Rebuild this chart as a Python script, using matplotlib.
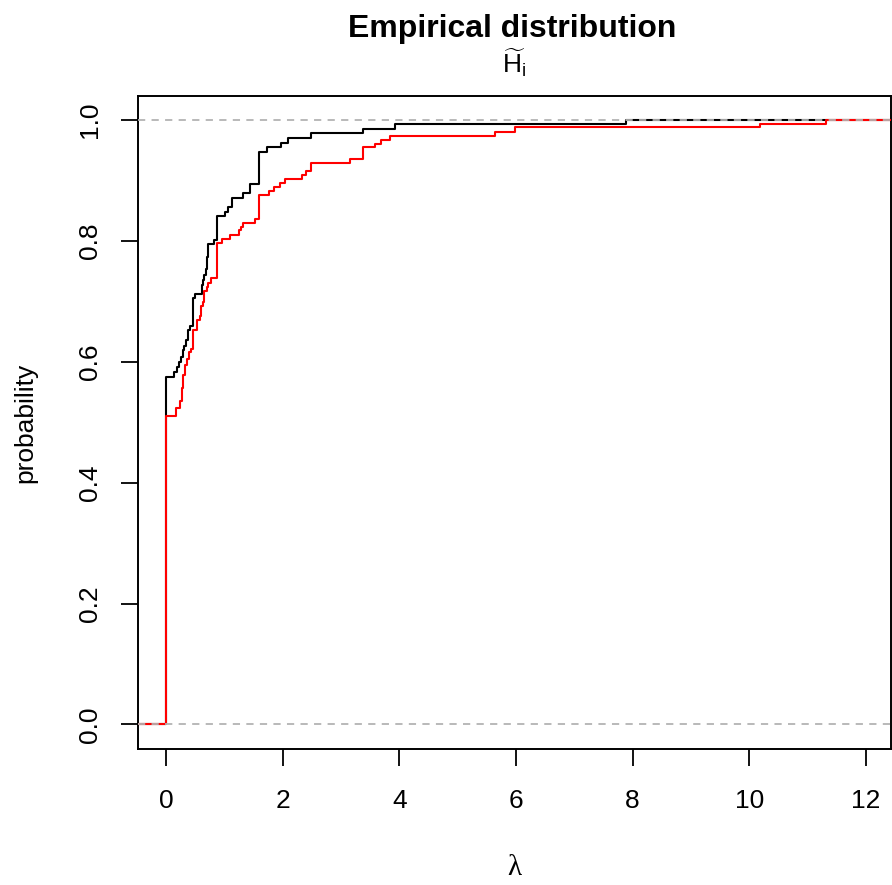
import matplotlib
matplotlib.use("Agg")
import matplotlib.pyplot as plt

# ---- data (jump points of the two empirical CDFs) ----
black_x = [0.00, 0.14, 0.19, 0.23, 0.26, 0.29, 0.31, 0.34, 0.38, 0.42, 0.47, 0.50,
           0.62, 0.63, 0.66, 0.68, 0.70, 0.71, 0.72, 0.82, 0.88, 1.01, 1.06, 1.13,
           1.33, 1.44, 1.60, 1.73, 1.97, 2.09, 2.48, 3.38, 3.92, 7.88]
black_y = [0.575, 0.583, 0.592, 0.600, 0.608, 0.619, 0.627, 0.636, 0.652, 0.659, 0.705, 0.712,
           0.727, 0.735, 0.743, 0.754, 0.763, 0.774, 0.795, 0.802, 0.841, 0.848, 0.856, 0.871,
           0.879, 0.895, 0.948, 0.955, 0.962, 0.970, 0.978, 0.985, 0.993, 1.000]

red_x = [0.00, 0.17, 0.24, 0.27, 0.30, 0.33, 0.37, 0.40, 0.43, 0.46, 0.54, 0.58,
         0.61, 0.63, 0.66, 0.70, 0.73, 0.77, 0.87, 0.96, 1.10, 1.25, 1.29, 1.32,
         1.53, 1.60, 1.77, 1.85, 1.95, 2.04, 2.34, 2.40, 2.48, 3.15, 3.38, 3.58,
         3.68, 3.85, 5.65, 5.98, 10.18, 11.32]
red_y = [0.510, 0.523, 0.536, 0.556, 0.578, 0.594, 0.605, 0.616, 0.622, 0.652, 0.669, 0.676,
         0.692, 0.699, 0.717, 0.724, 0.731, 0.738, 0.797, 0.803, 0.810, 0.818, 0.823, 0.830,
         0.837, 0.876, 0.883, 0.890, 0.896, 0.903, 0.909, 0.916, 0.929, 0.935, 0.955, 0.961,
         0.968, 0.974, 0.981, 0.988, 0.993, 1.000]

x_ticks = [0, 2, 4, 6, 8, 10, 12]
y_ticks = [0.0, 0.2, 0.4, 0.6, 0.8, 1.0]
y_ticklabels = ["0.0", "0.2", "0.4", "0.6", "0.8", "1.0"]

plt.rcParams['font.family'] = ['Liberation Sans', 'DejaVu Sans']
plt.rcParams['mathtext.fontset'] = 'custom'
plt.rcParams['mathtext.rm'] = 'Liberation Sans'
plt.rcParams['mathtext.it'] = 'Liberation Sans:italic'

W, H = 892, 885
fig = plt.figure(figsize=(W / 100, H / 100), dpi=100)
ax = fig.add_axes([138 / W, 1 - 748.5 / H, (891 - 138) / W, (748.5 - 96) / H])

xlim = (-0.478, 12.43)
ylim = (-0.04, 1.04)

def step_series(xs, ys):
    sx = [xlim[0] - 1] + list(xs) + [xlim[1] + 1]
    sy = [0.0] + list(ys) + [ys[-1]]
    return sx, sy

bx, by = step_series(black_x, black_y)
rx, ry = step_series(red_x, red_y)
ax.step(bx, by, where='post', color='black', lw=1.5, zorder=2)
ax.step(rx, ry, where='post', color='#ff0000', lw=1.5, zorder=3)

for h in (0.0, 1.0):
    ax.axhline(h, color='#b3b3b3', lw=1.3, linestyle=(0, (4, 3.5)), zorder=4)

ax.set_xlim(*xlim)
ax.set_ylim(*ylim)
ax.set_xticks(x_ticks)
ax.set_xticklabels([str(t) for t in x_ticks])
ax.set_yticks(y_ticks)
ax.set_yticklabels(y_ticklabels, rotation=90, va='center')

ax.tick_params(axis='both', direction='out', length=12, width=1.3, labelsize=19,
               colors='black')
ax.tick_params(axis='x', pad=17)
ax.tick_params(axis='y', pad=14)
for s in ax.spines.values():
    s.set_linewidth(1.4)

fig.text(512 / W, 1 - 29 / H, "Empirical distribution", ha='center', va='center',
         fontsize=23, fontweight='bold')
fig.text(514 / W, 1 - 63 / H, r"$\widetilde{\mathrm{H}}_{\mathrm{i}}$", ha='center',
         va='center', fontsize=19)
fig.text(514 / W, 1 - 868 / H, "λ", ha='center', va='center', fontsize=21,
         family=['Liberation Serif', 'DejaVu Serif'])
fig.text(25 / W, 1 - 423 / H, "probability", ha='center', va='center', fontsize=19,
         rotation=90)

fig.savefig("out.png", dpi=100)
